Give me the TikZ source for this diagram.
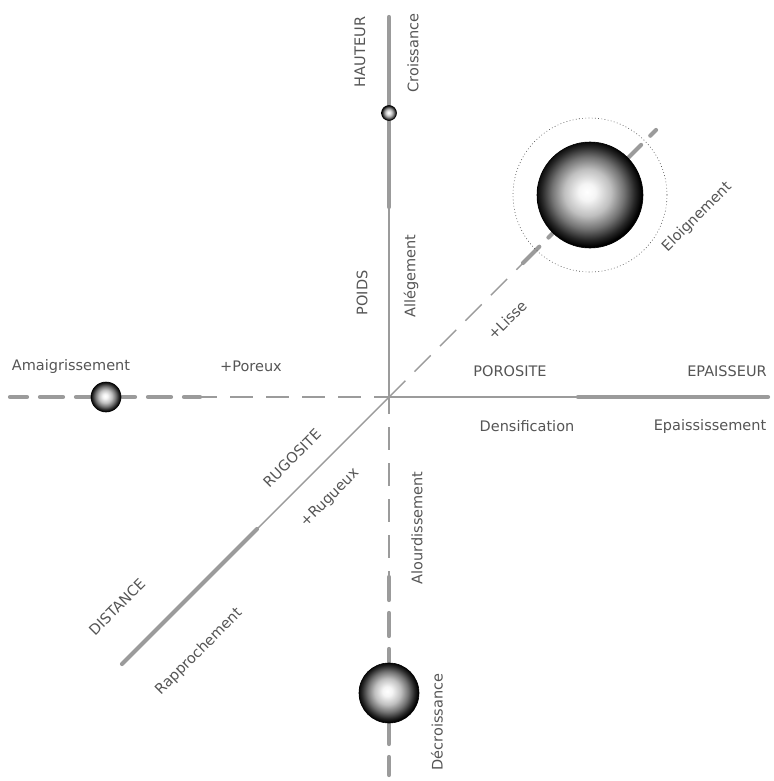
\documentclass[tikz,border=0pt]{standalone}
\usepackage{fontspec}
\setmainfont{DejaVu Sans}
\definecolor{axgray}{RGB}{155,155,155}
\definecolor{txtgray}{RGB}{85,85,85}
\pgfdeclareradialshading{sphereshade}{\pgfpoint{-1.5bp}{1.5bp}}{%
  color(0bp)=(white); color(4bp)=(white!96!black); color(11bp)=(black!25);
  color(17bp)=(black!55); color(22bp)=(black!85); color(25bp)=(black); color(50bp)=(black)}
\tikzset{
  thinax/.style={draw=axgray, line width=1.4pt},
  thickax/.style={draw=axgray, line width=4.2pt, line cap=round},
  dashpat/.style={dash pattern=on 23pt off 13pt},
  lbl/.style={text=txtgray, font=\fontsize{14.5}{15}\selectfont, inner sep=0pt},
  sphere/.style={shading=sphereshade, draw=black, line width=0.6pt},
  orbit/.style={draw=black!70, line width=0.6pt, dash pattern=on 0.8pt off 2.4pt}
}
\begin{document}
\begin{tikzpicture}[x=1pt,y=-1pt]
\useasboundingbox (0,0) rectangle (773,781);
% named points
\coordinate (O) at (389,397);
\coordinate (Ntop) at (389,17);   \coordinate (Nmid) at (389,207);
\coordinate (Sbot) at (389,775);  \coordinate (Smid) at (389,577);
\coordinate (Eend) at (768,397);  \coordinate (Emid) at (578,397);
\coordinate (Wend) at (10,397);   \coordinate (Wmid) at (200,397);
\coordinate (NEend) at (656,130); \coordinate (NEmid) at (523,263);
\coordinate (SWend) at (122,664); \coordinate (SWmid) at (257,529);
% axes
\draw[thickax] (Ntop) -- (Nmid);
\draw[thinax] (Nmid) -- (O);
\draw[thinax] (O) -- (Emid);
\draw[thickax] (Emid) -- (Eend);
\draw[thinax, dashpat, dash phase=6pt] (Wmid) -- (O);
\draw[thickax, dashpat, dash phase=7pt] (Wmid) -- (Wend);
\draw[thinax, dashpat, dash phase=6pt] (O) -- (Smid);
\draw[thickax, dashpat] (Smid) -- (Sbot);
\draw[thinax, dashpat] (O) -- (NEmid);
\draw[thickax, dashpat] (NEmid) -- (NEend);
\draw[thinax] (O) -- (SWmid);
\draw[thickax] (SWmid) -- (SWend);
% spheres
\coordinate (Bsmall) at (389,113);
\coordinate (Bbig) at (590,195);
\coordinate (Bleft) at (106,397);
\coordinate (Bbot) at (389,693);
\draw[orbit] (Bbig) circle (77pt);
\path[sphere] (Bsmall) circle (7.5pt);
\path[sphere] (Bbig) circle (53pt);
\path[sphere] (Bleft) circle (15pt);
\path[sphere] (Bbot) circle (30pt);
% labels
\node[lbl, rotate=90] (hauteur) at (360,52) {HAUTEUR};
\node[lbl, rotate=90] (croiss) at (413,53) {Croissance};
\node[lbl, rotate=90] (poids) at (362,293) {POIDS};
\node[lbl, rotate=90] (alleg) at (411,276) {Allégement};
\node[lbl, rotate=45] (lisse) at (507,320) {+Lisse};
\node[lbl, rotate=45] (eloig) at (697,217) {Eloignement};
\node[lbl] (amaig) at (71,366) {Amaigrissement};
\node[lbl] (poreux) at (251,366) {+Poreux};
\node[lbl] (poros) at (510,371) {POROSITE};
\node[lbl] (epais) at (727,371) {EPAISSEUR};
\node[lbl] (densif) at (527,426) {Densification};
\node[lbl] (epaiss) at (710,426) {Epaississement};
\node[lbl, rotate=45] (rugos) at (292,458) {RUGOSITE};
\node[lbl, rotate=45] (rugueux) at (330,498) {+Rugueux};
\node[lbl, rotate=45] (distance) at (117,607) {DISTANCE};
\node[lbl, rotate=45] (rappro) at (199,652) {Rapprochement};
\node[lbl, rotate=90] (alourd) at (417,528) {Alourdissement};
\node[lbl, rotate=90] (decroiss) at (437,722) {Décroissance};
\end{tikzpicture}
\end{document}
